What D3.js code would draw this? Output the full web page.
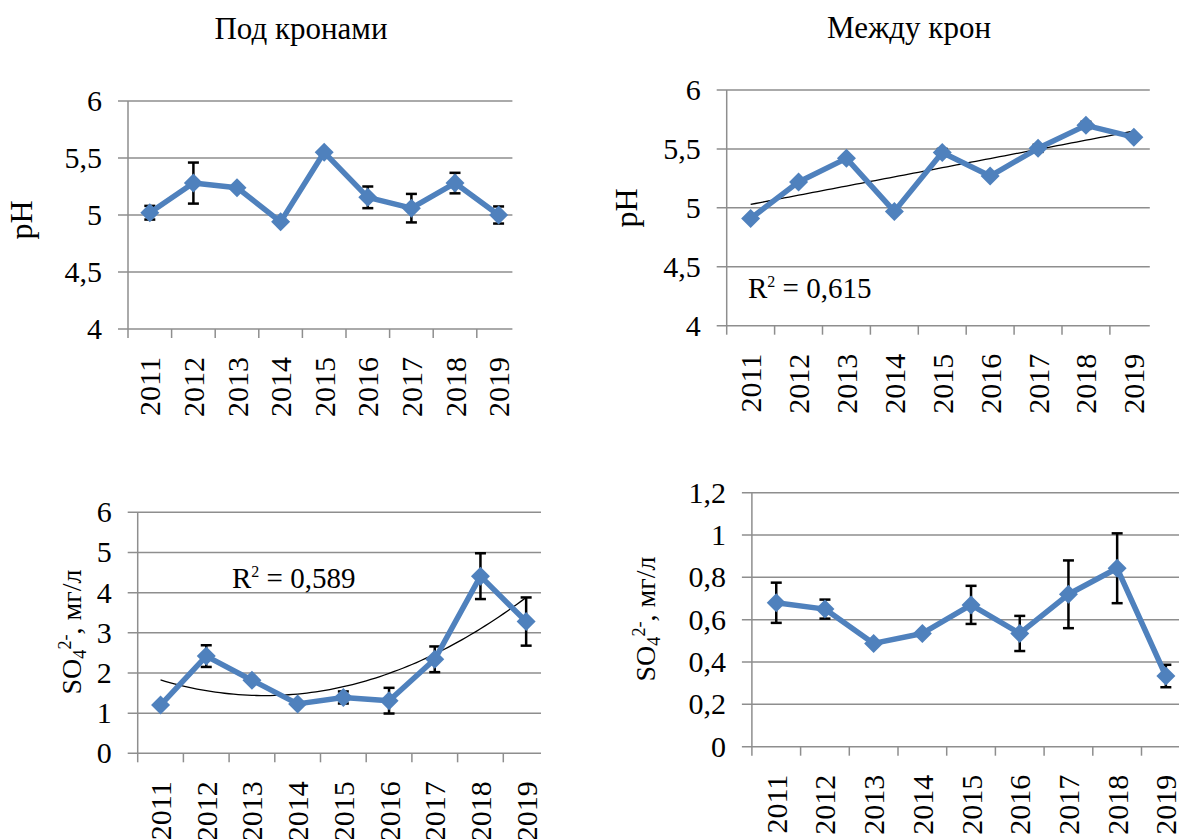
<!DOCTYPE html>
<html lang="ru">
<head>
  <meta charset="UTF-8">
  <title>pH и SO4</title>
  <style>
  body { margin: 0; background: #fff; }
  svg text { font-family: "Liberation Serif", "Times New Roman", serif; fill: #000; }
  </style>
</head>
<body>
  <svg id="paper" width="1179" height="839"></svg>
  <script src="https://cdn.jsdelivr.net/npm/d3@7"></script>
  <script>

const years = ['2011', '2012', '2013', '2014', '2015', '2016', '2017', '2018', '2019']

// pH, под кронами / между крон
const phUnder = [5.02, 5.28, 5.24, 4.94, 5.55, 5.155, 5.06, 5.28, 5.0]
const phUnderErr = [0.06, 0.18, 0, 0, 0, 0.095, 0.125, 0.09, 0.075]
const phBetween = [4.91, 5.22, 5.42, 4.97, 5.47, 5.27, 5.505, 5.70, 5.60]
const phBetweenErr = [0, 0, 0, 0, 0.03, 0, 0.03, 0.03, 0]

// SO4 2-, мг/л
const so4Under = [1.2, 2.42, 1.82, 1.23, 1.39, 1.31, 2.34, 4.41, 3.28]
const so4UnderErr = [0, 0.27, 0, 0, 0.15, 0.32, 0.32, 0.57, 0.6]
const so4Between = [0.68, 0.65, 0.488, 0.535, 0.67, 0.535, 0.72, 0.843, 0.334]
const so4BetweenErr = [0.095, 0.045, 0, 0, 0.09, 0.083, 0.16, 0.165, 0.053]

const phTicks = [4, 4.5, 5, 5.5, 6]
const so4UnderTicks = [0, 1, 2, 3, 4, 5, 6]
const so4BetweenTicks = [0, 0.2, 0.4, 0.6, 0.8, 1, 1.2]

const ru = d3.formatLocale({decimal: ',', thousands: ' ', grouping: [3], currency: ['', '']})
const fmt = ru.format('.1~f')

const svg = d3.select('#paper')
const BLUE = '#4f81bd'
const GRID = '#8e8e8e'
const TICK_FONT = 30

// least squares polynomial fit (order 1 or 2) over index positions
function polyFit(ys, order) {
  const n = order + 1
  const A = d3.range(n).map(() => new Array(n + 1).fill(0))
  ys.forEach((y, i) => {
    for (let r = 0; r < n; r++) {
      for (let c = 0; c < n; c++) A[r][c] += Math.pow(i, r + c)
      A[r][n] += y * Math.pow(i, r)
    }
  })
  for (let p = 0; p < n; p++) {
    for (let r = p + 1; r < n; r++) {
      const f = A[r][p] / A[p][p]
      for (let c = p; c <= n; c++) A[r][c] -= f * A[p][c]
    }
  }
  const k = new Array(n).fill(0)
  for (let r = n - 1; r >= 0; r--) {
    let s = A[r][n]
    for (let c = r + 1; c < n; c++) s -= A[r][c] * k[c]
    k[r] = s / A[r][r]
  }
  return t => k.reduce((acc, v, j) => acc + v * Math.pow(t, j), 0)
}

function drawPanel(o) {
  const g = svg.append('g')
  const x = d3.scaleBand().domain(years).range([o.left, o.left + 9 * o.bw])
  const y = d3.scaleLinear().domain(o.domain).range([o.bottom, o.top])
  const gx0 = o.left - 10
  const gx1 = Math.min(x.range()[1] - 8, 1179)

  // gridlines
  g.selectAll('line.grid').data(o.ticks).join('line')
    .attr('x1', gx0).attr('x2', gx1)
    .attr('y1', d => y(d)).attr('y2', d => y(d))
    .attr('stroke', GRID).attr('stroke-width', 1.5)

  // vertical axis line
  g.append('line')
    .attr('x1', o.left).attr('x2', o.left)
    .attr('y1', y(o.domain[1])).attr('y2', o.bottom)
    .attr('stroke', GRID).attr('stroke-width', 1.5)

  // category tick marks
  g.selectAll('line.xt').data(years).join('line')
    .attr('x1', d => x(d)).attr('x2', d => x(d))
    .attr('y1', o.bottom).attr('y2', o.bottom + 9)
    .attr('stroke', GRID).attr('stroke-width', 1.5)

  // y tick labels
  g.selectAll('text.yt').data(o.ticks).join('text')
    .attr('x', o.left - 26).attr('y', d => y(d)).attr('dy', '0.33em')
    .attr('text-anchor', 'end').attr('font-size', TICK_FONT)
    .text(d => fmt(d))

  // x tick labels (rotated)
  g.selectAll('text.xl').data(years).join('text')
    .attr('transform', d => `translate(${x(d) + x.bandwidth() / 2},${o.bottom + 28}) rotate(-90)`)
    .attr('dy', '0.35em').attr('text-anchor', 'end').attr('font-size', TICK_FONT)
    .text(d => d)

  const pts = o.values.map((v, i) => ({year: years[i], v, e: o.errors[i]}))
  const cx = d => x(d.year) + x.bandwidth() / 2

  // trendline
  if (o.trend) {
    const f = polyFit(o.values, o.trend)
    const tt = d3.range(0, 8.01, 0.1)
    const line = d3.line()
      .x(t => x(years[0]) + x.bandwidth() / 2 + t * x.step())
      .y(t => y(f(t)))
    g.append('path').attr('d', line(tt))
      .attr('fill', 'none').attr('stroke', '#000').attr('stroke-width', 1.3)
  }

  // error bars
  const eb = g.selectAll('g.eb').data(pts.filter(d => d.e > 0)).join('g')
  eb.append('line')
    .attr('x1', cx).attr('x2', cx)
    .attr('y1', d => y(d.v - d.e)).attr('y2', d => y(d.v + d.e))
    .attr('stroke', '#000').attr('stroke-width', 2.5)
  ;[-1, 1].forEach(s => {
    eb.append('line')
      .attr('x1', d => cx(d) - 5.5).attr('x2', d => cx(d) + 5.5)
      .attr('y1', d => y(d.v + s * d.e)).attr('y2', d => y(d.v + s * d.e))
      .attr('stroke', '#000').attr('stroke-width', 2.5)
  })

  // series line
  g.append('path')
    .attr('d', d3.line().x(cx).y(d => y(d.v))(pts))
    .attr('fill', 'none').attr('stroke', BLUE).attr('stroke-width', 5.5)
    .attr('stroke-linejoin', 'round')

  // diamond markers
  g.selectAll('path.mk').data(pts).join('path')
    .attr('d', d3.symbol(d3.symbolDiamond2, 230))
    .attr('transform', d => `translate(${cx(d)},${y(d.v)})`)
    .attr('fill', BLUE)

  // axis title
  const at = g.append('text')
    .attr('transform', `translate(${o.labelX},${o.labelY}) rotate(-90)`)
    .attr('text-anchor', 'middle').attr('font-size', o.labelSize)
  if (o.label === 'pH') {
    at.text('pH')
  } else {
    at.append('tspan').text('SO')
    at.append('tspan').attr('font-size', o.labelSize * 0.65).attr('dy', 5).text('4')
    at.append('tspan').attr('font-size', o.labelSize * 0.65).attr('dy', -15).text('2-')
    at.append('tspan').attr('dy', 10).text(', мг/л')
  }

  // R² label
  if (o.r2) {
    const rt = g.append('text')
      .attr('x', o.r2x).attr('y', o.r2y).attr('font-size', 29)
    rt.append('tspan').text('R')
    rt.append('tspan').attr('font-size', 16).attr('dy', -11).text('2')
    rt.append('tspan').attr('dy', 11).text(' = ' + o.r2)
  }
}

// titles
svg.append('text').attr('x', 301).attr('y', 39).attr('text-anchor', 'middle')
  .attr('font-size', 31).text('Под кронами')
svg.append('text').attr('x', 909).attr('y', 38).attr('text-anchor', 'middle')
  .attr('font-size', 31).text('Между крон')

drawPanel({left: 128, bw: 43.6, top: 101, bottom: 329, domain: [4, 6], ticks: phTicks,
  values: phUnder, errors: phUnderErr, label: 'pH', labelX: 32, labelY: 220, labelSize: 32})

drawPanel({left: 726.7, bw: 47.9, top: 90, bottom: 325.7, domain: [4, 6], ticks: phTicks,
  values: phBetween, errors: phBetweenErr, label: 'pH', labelX: 637, labelY: 208, labelSize: 32,
  trend: 1, r2: '0,615', r2x: 748, r2y: 298})

drawPanel({left: 137.7, bw: 45.7, top: 512.3, bottom: 753.3, domain: [0, 6], ticks: so4UnderTicks,
  values: so4Under, errors: so4UnderErr, label: 'so4', labelX: 81, labelY: 632, labelSize: 28,
  trend: 2, r2: '0,589', r2x: 232, r2y: 588})

drawPanel({left: 751.9, bw: 48.7, top: 492.7, bottom: 746.7, domain: [0, 1.2], ticks: so4BetweenTicks,
  values: so4Between, errors: so4BetweenErr, label: 'so4', labelX: 655, labelY: 619, labelSize: 28})

  </script>
</body>
</html>
